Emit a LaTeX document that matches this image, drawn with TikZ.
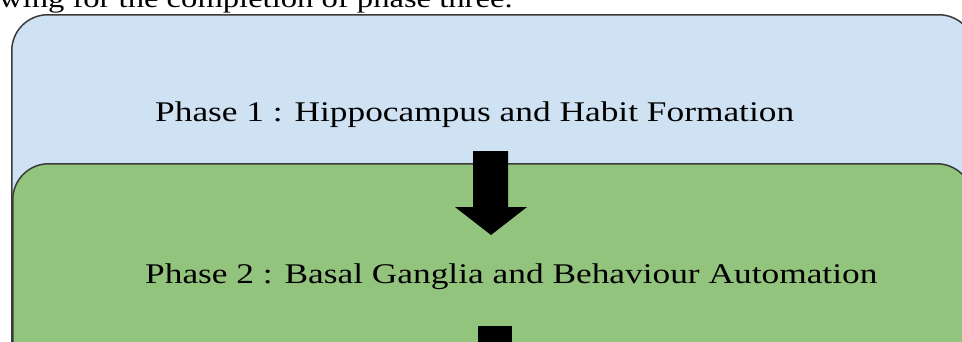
\documentclass[tikz,border=0pt]{standalone}
\usepackage{fontspec}
\setmainfont{Liberation Serif}
\newfontfamily\widefont[FakeStretch=1.24]{Liberation Serif}
\definecolor{boxblue}{HTML}{CFE2F3}
\definecolor{boxgreen}{HTML}{93C47D}
\definecolor{boxline}{HTML}{3A3A3A}
\begin{document}
\begin{tikzpicture}[x=1pt,y=-1pt,
  phasebox/.style={draw=boxline, line width=1.5pt, rounded corners=36pt,
    anchor=north west, inner sep=0pt},
  phasetext/.style={anchor=base west, inner sep=0pt,
    font=\widefont\fontsize{28.5pt}{34pt}\selectfont},
  bodytext/.style={anchor=base west, inner sep=0pt,
    font=\widefont\fontsize{26.3pt}{32pt}\selectfont},
  blockarrow/.style={fill=black}]
\useasboundingbox (0,0) rectangle (962,341);
\clip (0,0) rectangle (962,341);
% cut-off line of running text above the diagram
\node[bodytext] (prose) at (-1,7) {wing for the completion of phase three.};
% phase boxes
\node[phasebox, fill=boxblue, minimum width=963pt, minimum height=420pt] (p1box) at (11,14) {};
\node[phasebox, fill=boxgreen, minimum width=960pt, minimum height=420pt] (p2box) at (12,163) {};
% labels
\node[phasetext] (p1) at (155,121) {Phase 1 : Hippocampus and Habit Formation};
\node[phasetext] (p2) at (145,283) {Phase 2 : Basal Ganglia and Behaviour Automation};
% block arrows
\coordinate (a1) at (491,151);
\fill[blockarrow] (a1) ++(-18,0) -- ++(35,0) -- ++(0,56) -- ++(19,0)
  -- (491,235) -- (455,207) -- ++(18,0) -- cycle;
\coordinate (a2) at (495,326);
\fill[blockarrow] (a2) ++(-17,0) rectangle ++(34,40);
\end{tikzpicture}
\end{document}
